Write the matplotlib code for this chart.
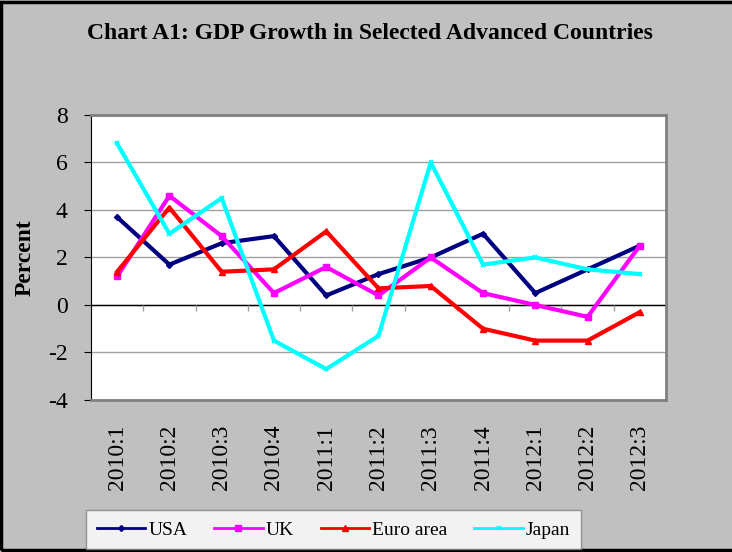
import matplotlib.pyplot as plt
import numpy as np
from matplotlib.patches import Rectangle

# Data
quarters = ['2010:1', '2010:2', '2010:3', '2010:4', '2011:1', '2011:2',
            '2011:3', '2011:4', '2012:1', '2012:2', '2012:3']
usa = [3.7, 1.7, 2.6, 2.9, 0.4, 1.3, 2.0, 3.0, 0.5, 1.5, 2.5]
uk = [1.2, 4.6, 2.9, 0.5, 1.6, 0.4, 2.0, 0.5, 0.0, -0.5, 2.5]
euro = [1.4, 4.1, 1.4, 1.5, 3.1, 0.7, 0.8, -1.0, -1.5, -1.5, -0.3]
japan = [6.8, 3.0, 4.5, -1.5, -2.7, -1.3, 6.0, 1.7, 2.0, 1.5, 1.3]

plt.rcParams['font.family'] = ['Liberation Serif', 'DejaVu Serif']
plt.rcParams['axes.unicode_minus'] = False

fig = plt.figure(figsize=(7.32, 5.52), dpi=100, facecolor='#c0c0c0')
ax = fig.add_axes([0.1243, 0.2754, 0.7855, 0.5163])
ax.set_facecolor('white')

x = np.arange(len(quarters))
ax.plot(x, usa, color='#000080', lw=3, marker='D', ms=3, label='USA')
ax.plot(x, uk, color='#ff00ff', lw=3, marker='s', ms=4, label='UK')
ax.plot(x, euro, color='#ff0000', lw=3, marker='^', ms=4, label='Euro area')
ax.plot(x, japan, color='#00ffff', lw=3, marker='x', ms=3, mew=1.2, label='Japan')

# axis range, grid and zero line
ax.set_xlim(-0.5, len(quarters) - 0.5)
ax.set_ylim(-4, 8)
ax.set_yticks(range(-4, 9, 2))
ax.yaxis.grid(True, color='#a0a0a0', lw=1)
ax.set_axisbelow(True)
ax.axhline(0, color='black', lw=1, zorder=1.5)
ax.vlines(x[:-1] + 0.5, -0.25, 0, color='#a0a0a0', lw=1, zorder=1.5)

ax.set_xticks(x)
ax.set_xticklabels(quarters, rotation=90, fontsize=17)
ax.tick_params(axis='x', length=0, pad=18)
ax.tick_params(axis='y', labelsize=17, length=5, direction='out', pad=12)

for side in ['top', 'right', 'bottom']:
    ax.spines[side].set_color('#808080')
    ax.spines[side].set_linewidth(2)
ax.spines['left'].set_color('black')

ax.set_ylabel('Percent', fontsize=17, fontweight='bold')
ax.yaxis.set_label_coords(-0.097, 0.5)
fig.text(0.505, 0.94, 'Chart A1: GDP Growth in Selected Advanced Countries',
         ha='center', va='center', fontsize=17, fontweight='bold')

leg = fig.legend(loc='lower left', bbox_to_anchor=(0.1175, 0.005, 0.676, 0.076),
                 mode='expand', ncol=4, frameon=True, fancybox=False,
                 edgecolor='#808080', fontsize=14, handlelength=2.5,
                 columnspacing=1.3, borderpad=0.55, handletextpad=0.15,
                 borderaxespad=0)
leg.get_frame().set_linewidth(1)
for line in leg.get_lines():
    line.set_linewidth(2)

# outer black border
fig.patches.append(Rectangle((0.002, 0.003), 1.1, 0.993, transform=fig.transFigure,
                             fill=False, edgecolor='black', lw=2.5))

plt.savefig('out.png', dpi=100, facecolor=fig.get_facecolor())
